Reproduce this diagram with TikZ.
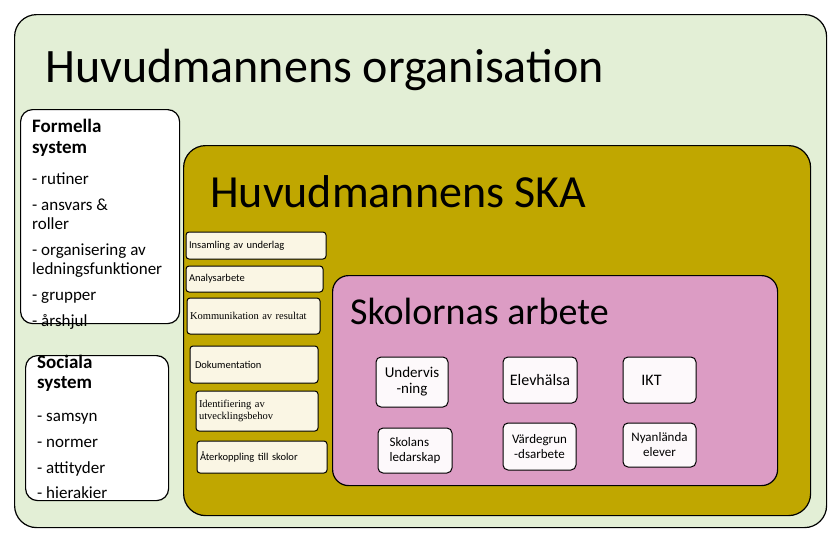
\documentclass[tikz,border=0pt]{standalone}
\usepackage{fontspec}
\setmainfont{Carlito}
\newfontfamily\serifs{Liberation Serif}
\usetikzlibrary{positioning}
\definecolor{orggreen}{HTML}{E3EFD6}
\definecolor{skagold}{HTML}{C0A700}
\definecolor{skolpink}{HTML}{DC9CC4}
\definecolor{taskcream}{HTML}{FAF6E4}
\tikzset{
  bigbox/.style={draw, line width=1.2pt, rounded corners=22pt, anchor=north west, inner sep=0pt},
  sysbox/.style={draw, line width=1.2pt, rounded corners=12pt, fill=white, anchor=north west, inner sep=0pt},
  task/.style={draw, line width=1pt, rounded corners=3pt, fill=taskcream, align=left, inner xsep=3pt, inner ysep=2pt, font=\fontsize{10.5}{11.5}\selectfont},
  area/.style={draw, line width=1pt, rounded corners=5pt, fill=white!94!skolpink, align=center, font=\fontsize{15}{16}\selectfont},
  heading/.style={anchor=base west, inner sep=0pt},
  systext/.style={anchor=north west, align=left, font=\fontsize{17}{19}\selectfont, inner sep=0pt}
}
\newcommand{\syshead}[1]{\textbf{\fontsize{19}{22}\selectfont #1}}
\begin{document}
\begin{tikzpicture}[x=1pt,y=-1pt]
\useasboundingbox (0,0) rectangle (836,542);
\node[bigbox, fill=orggreen, minimum width=812pt, minimum height=513pt] (org) at (14,14) {};
\node[heading, font=\fontsize{48}{48}\selectfont] (orgtitle) at (45,82) {Huvudmannens organisation};
% system boxes
\node[sysbox, minimum width=159pt, minimum height=214pt] (formella) at (20,109) {};
\node[systext] (formtext) at (32,119)
  {\syshead{Formella}\\[2pt] \syshead{system}\\[12pt]
   - rutiner\\[7pt] - ansvars \&\\ roller\\[7pt] - organisering av\\ ledningsfunktioner\\[7pt] - grupper\\[7pt] - årshjul};
\node[sysbox, minimum width=143pt, minimum height=145pt] (sociala) at (25,355) {};
\node[systext] (soctext) at (37,355)
  {\syshead{Sociala}\\[1pt] \syshead{system}\\[14pt]
   - samsyn\\[7pt] - normer\\[7pt] - attityder\\[6pt] - hierakier};
% SKA
\node[bigbox, fill=skagold, minimum width=627pt, minimum height=370pt] (ska) at (183,145) {};
\node[heading, font=\fontsize{46}{46}\selectfont] (skatitle) at (210,207) {Huvudmannens SKA};
\node[task, text width=134pt, minimum height=27pt] (insamling) at (256,245.5) {Insamling av underlag};
\node[task, text width=131pt, minimum height=26pt] (analys) at (254.5,279) {Analysarbete};
\node[task, text width=127pt, minimum height=36pt, font=\serifs\fontsize{10.5}{11.5}\selectfont] (kommunikation) at (253.5,316) {Kommunikation av resultat};
\node[task, text width=122pt, minimum height=37pt] (dokumentation) at (254,364.5) {\hspace{2pt}Dokumentation};
\node[task, text width=116pt, minimum height=40pt, font=\serifs\fontsize{10.5}{11.5}\selectfont] (identifiering) at (257,411) {Identifiering av\\utvecklingsbehov};
\node[task, text width=124pt, minimum height=32pt] (aterkoppling) at (262,457) {Återkoppling till skolor};
% skolor
\node[bigbox, rounded corners=16pt, fill=skolpink, minimum width=445pt, minimum height=210pt] (skolor) at (332,275) {};
\node[heading, font=\fontsize{38}{38}\selectfont] (skoltitle) at (350,324) {Skolornas arbete};
\node[area, minimum width=72pt, minimum height=50pt] (undervisning) at (412,382) {Undervis\\-ning};
\node[area, minimum width=74pt, minimum height=46pt, font=\fontsize{16}{16}\selectfont] (elevhalsa) at (540,380) {Elevhälsa};
\node[area, minimum width=73pt, minimum height=46pt, font=\fontsize{16}{16}\selectfont] (ikt) at (659.5,380) {IKT\hspace{16pt}};
\node[area, minimum width=74pt, minimum height=45pt, font=\fontsize{13}{15}\selectfont, align=left] (ledarskap) at (415,450.5) {Skolans\\ledarskap};
\node[area, minimum width=73pt, minimum height=47pt, font=\fontsize{13}{15}\selectfont] (vardegrund) at (539.5,446.5) {Värdegrun\\-dsarbete};
\node[area, minimum width=73pt, minimum height=44pt, font=\fontsize{13}{15}\selectfont] (nyanlanda) at (659.5,445) {Nyanlända\\elever};
\end{tikzpicture}
\end{document}
